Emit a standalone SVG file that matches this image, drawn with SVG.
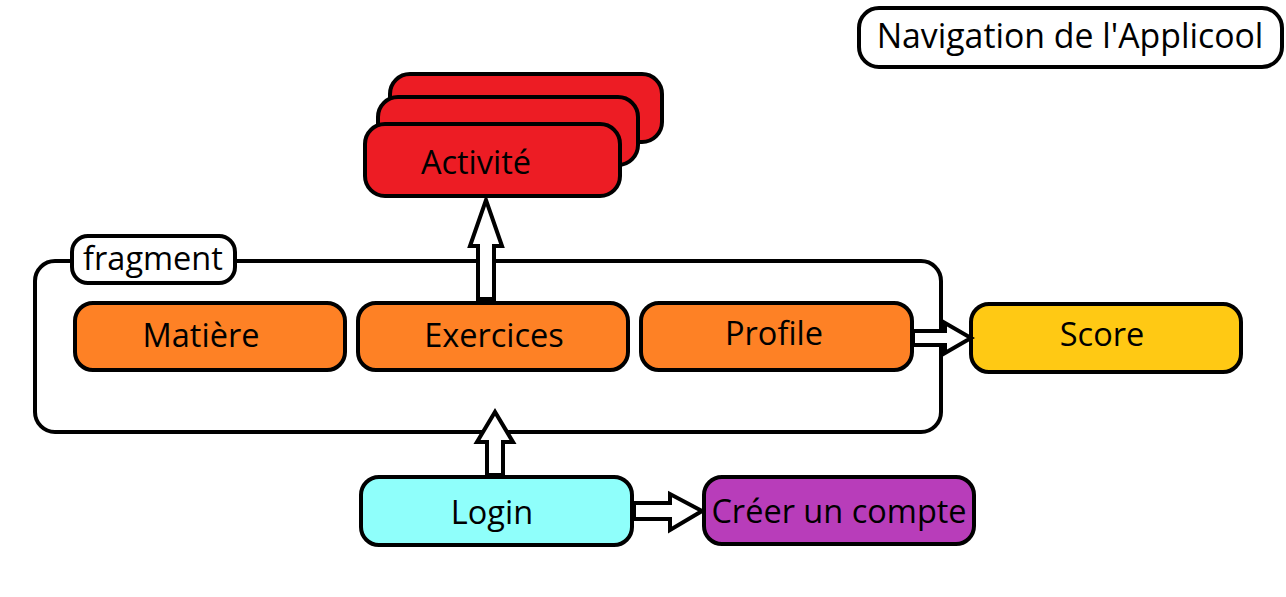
<svg xmlns="http://www.w3.org/2000/svg" width="1286" height="597" viewBox="0 0 1286 597">
<style>
.box{stroke:#000;stroke-width:4}
.t{font-family:"Open Sans","Noto Sans",sans-serif;font-size:32.5px;fill:#000;text-anchor:middle}
.arr{fill:#fff;stroke:#000;stroke-width:4;stroke-linejoin:miter}
</style>
<rect width="1286" height="597" fill="#fff"/>
<g id="title">
<rect class="box" x="859" y="8" width="423" height="59" rx="20" fill="#fff"/>
<text class="t" x="1070" y="48" style="font-size:33.8px">Navigation de l'Applicool</text>
</g>
<g id="activite">
<rect class="box" x="390" y="74" width="272" height="68" rx="20" fill="#ED1C24"/>
<rect class="box" x="378" y="97" width="260" height="68" rx="20" fill="#ED1C24"/>
<rect class="box" x="365" y="124" width="255" height="72" rx="20" fill="#ED1C24"/>
<text class="t" x="476" y="174">Activité</text>
</g>
<g id="fragment">
<rect class="box" x="35" y="261" width="906" height="171" rx="20" fill="none"/>
<rect class="box" x="72" y="236" width="163" height="47" rx="16" fill="#fff"/>
<text class="t" x="153" y="270">fragment</text>
</g>
<g id="matiere">
<rect class="box" x="75" y="303" width="270" height="67" rx="18" fill="#FE8125"/>
<text class="t" x="201" y="347">Matière</text>
</g>
<g id="exercices">
<rect class="box" x="358" y="303" width="270" height="67" rx="18" fill="#FE8125"/>
<text class="t" x="494" y="347">Exercices</text>
</g>
<g id="profile">
<rect class="box" x="641" y="303" width="271" height="67" rx="18" fill="#FE8125"/>
<text class="t" x="774" y="345">Profile</text>
</g>
<g id="score">
<rect class="box" x="971" y="304" width="270" height="68" rx="18" fill="#FFC914"/>
<text class="t" x="1102" y="346">Score</text>
</g>
<g id="login">
<rect class="box" x="361" y="477" width="271" height="68" rx="18" fill="#8FFFFB"/>
<text class="t" x="492" y="524">Login</text>
</g>
<g id="creer">
<rect class="box" x="704" y="477" width="270" height="67" rx="18" fill="#B83DBA"/>
<text class="t" x="839" y="523">Créer un compte</text>
</g>
<g id="connectors">
<polygon class="arr" points="478,299 478,246 470,246 486,200 502,246 494,246 494,299"/>
<polygon class="arr" points="487,475 487,442 477,442 495,412 513,442 503,442 503,475"/>
<polygon class="arr" points="913,331 945,331 945,323 971,338 945,353 945,345 913,345"/>
<polygon class="arr" points="634,503 670,503 670,494 702,511 670,530 670,519 634,519"/>
</g>
</svg>
